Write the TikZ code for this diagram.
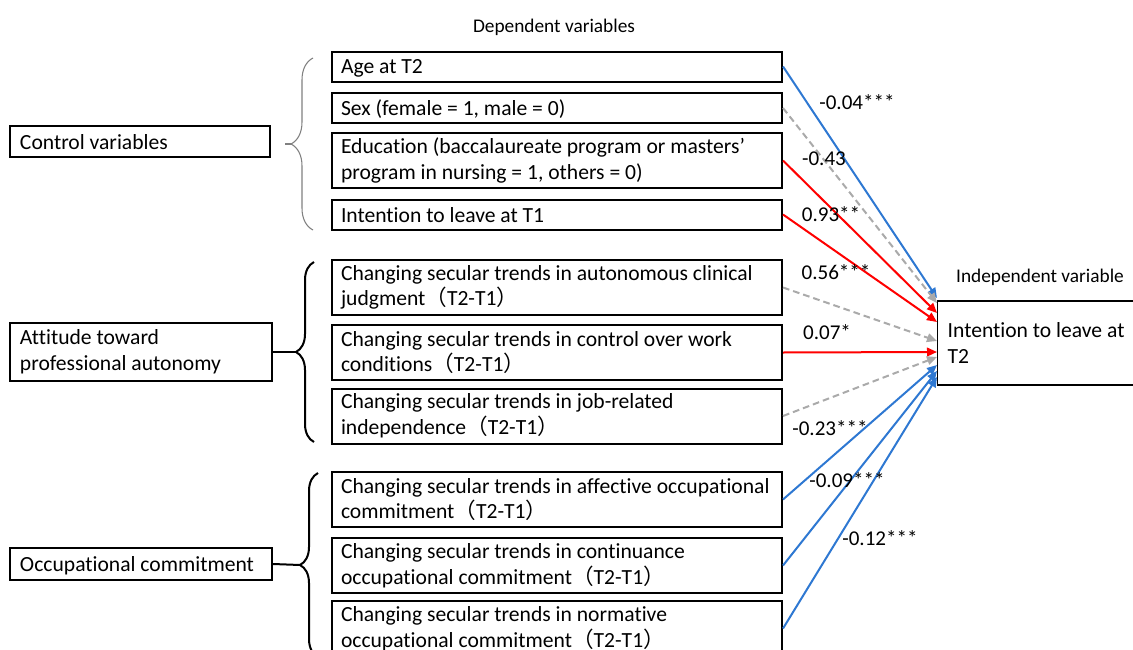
\documentclass[tikz,border=0pt]{standalone}
\usepackage{fontspec}
\setmainfont{Carlito}[Ligatures=NoCommon]
\newfontfamily\cjk{Noto Sans CJK JP}
\usetikzlibrary{arrows.meta,decorations.pathreplacing}
\newcommand{\tdiff}{{\cjk （}T2-T1{\cjk ）}}
\definecolor{pathblue}{HTML}{2E78D2}
\definecolor{pathred}{HTML}{FF0000}
\definecolor{pathgray}{HTML}{AAAAAA}

\begin{document}
\begin{tikzpicture}[x=0.75pt,y=-0.75pt]
\tikzset{varbox/.style={draw, line width=1.5pt, text width=324pt, align=flush left, inner xsep=6.75pt, inner ysep=2pt, minimum height=41.25pt, font=\fontsize{16.2}{19.2}\selectfont},
  onebox/.style={varbox, minimum height=22.5pt, text depth=0pt},
  groupbox/.style={draw, line width=1.5pt, align=flush left, inner xsep=7.5pt, inner ysep=2pt, font=\fontsize{16.2}{19.2}\selectfont},
  coef/.style={font=\fontsize{15.8}{19.2}\selectfont},
  heading/.style={font=\fontsize{14.5}{17}\selectfont},
  posarrow/.style={pathred, line width=1.5pt, -{Triangle[length=7.5pt,width=6.5pt]}},
  negarrow/.style={pathblue, line width=1.5pt, -{Triangle[length=7.5pt,width=6.5pt]}},
  nsarrow/.style={pathgray, line width=1.5pt, dash pattern=on 5pt off 3pt, -{Triangle[length=7.5pt,width=6.5pt]}},
  thinbrace/.style={draw=gray, line width=0.8pt, decorate, decoration={brace, amplitude=16.5pt}},
  boldbrace/.style={draw=black, line width=1.5pt, decorate, decoration={brace, amplitude=13.5pt}}}
\useasboundingbox (0,0) rectangle (1133,650);
\clip (0,0) rectangle (1133,650);
% headings
\node[heading] (dephead) at (554,27) {Dependent variables};
\node[heading] (indhead) at (1040,277) {Independent variable};
% groups
\node[groupbox, line width=1pt, text width=180pt, minimum height=23.25pt, text depth=0pt] (ctrl) at (140,141.5) {Control variables};
\node[groupbox, text width=181.5pt, minimum height=43.5pt] (att) at (141,352) {Attitude toward\\professional autonomy};
\node[groupbox, text width=181.5pt, minimum height=24pt, text depth=0pt] (occ) at (141,564) {Occupational commitment};
% dependent variables
\node[onebox] (age) at (557,66.5) {Age at T2};
\node[onebox] (sex) at (557,108) {Sex (female = 1, male = 0)};
\node[varbox] (edu) at (557,160.5) {Education (baccalaureate program or masters'\\program in nursing = 1, others = 0)};
\node[onebox] (lt1) at (557,214.5) {Intention to leave at T1};
\node[varbox] (clin) at (557,287.5) {Changing secular trends in autonomous clinical\\judgment\tdiff};
\node[varbox] (work) at (557,352.5) {Changing secular trends in control over work\\conditions\tdiff};
\node[varbox] (job) at (557,416) {Changing secular trends in job-related\\independence\tdiff};
\node[varbox] (aff) at (557,499.5) {Changing secular trends in affective occupational\\commitment\tdiff};
\node[varbox] (cont) at (557,565.5) {Changing secular trends in continuance\\occupational commitment\tdiff};
\node[varbox] (norm) at (557,628.5) {Changing secular trends in normative\\occupational commitment\tdiff};
% independent variable
\node[groupbox, line width=1pt, text width=155pt, minimum height=63pt] (lt2) at (1051,343) {Intention to leave at\\T2};
% braces
\draw[thinbrace] (313,230) -- (313,58);
\coordinate (ctrltip) at (291,144);
\coordinate (ctrlend) at (285,144);
\draw[gray, line width=0.8pt] (ctrlend) -- (ctrltip);
\draw[boldbrace] (314,442) -- (314,262);
\coordinate (atttip) at (296,352);
\draw[line width=1.5pt] (att.east) -- (atttip);
\draw[boldbrace] (318,657) -- (318,473);
\coordinate (occtip) at (300,565);
\draw[line width=1.5pt] (occ.east) -- (occtip);
% paths
\draw[negarrow] (age.east) -- ([yshift=33.75pt]lt2.west);
\draw[nsarrow] (sex.east) -- ([yshift=30pt]lt2.west);
\draw[posarrow] (edu.east) -- ([yshift=22.5pt]lt2.west);
\draw[posarrow] (lt1.east) -- ([yshift=15.75pt]lt2.west);
\draw[nsarrow] (clin.east) -- ([yshift=1.5pt]lt2.west);
\draw[posarrow] (work.east) -- ([yshift=-6.75pt]lt2.west);
\draw[nsarrow] (job.east) -- ([yshift=-10.5pt]lt2.west);
\draw[negarrow] (aff.east) -- ([yshift=-16.5pt]lt2.west);
\draw[negarrow] (cont.east) -- ([yshift=-21pt]lt2.west);
\draw[negarrow] (norm.east) -- ([yshift=-25.5pt]lt2.west);
% coefficients
\node[coef] (c1) at (857,102) {-0.04***};
\node[coef] (c2) at (824,159) {-0.43};
\node[coef] (c3) at (831,214) {0.93**};
\node[coef] (c4) at (836,272) {0.56***};
\node[coef] (c5) at (827,332) {0.07*};
\node[coef] (c6) at (830,428) {-0.23***};
\node[coef] (c7) at (847,480) {-0.09***};
\node[coef] (c8) at (880,538) {-0.12***};
\end{tikzpicture}
\end{document}
